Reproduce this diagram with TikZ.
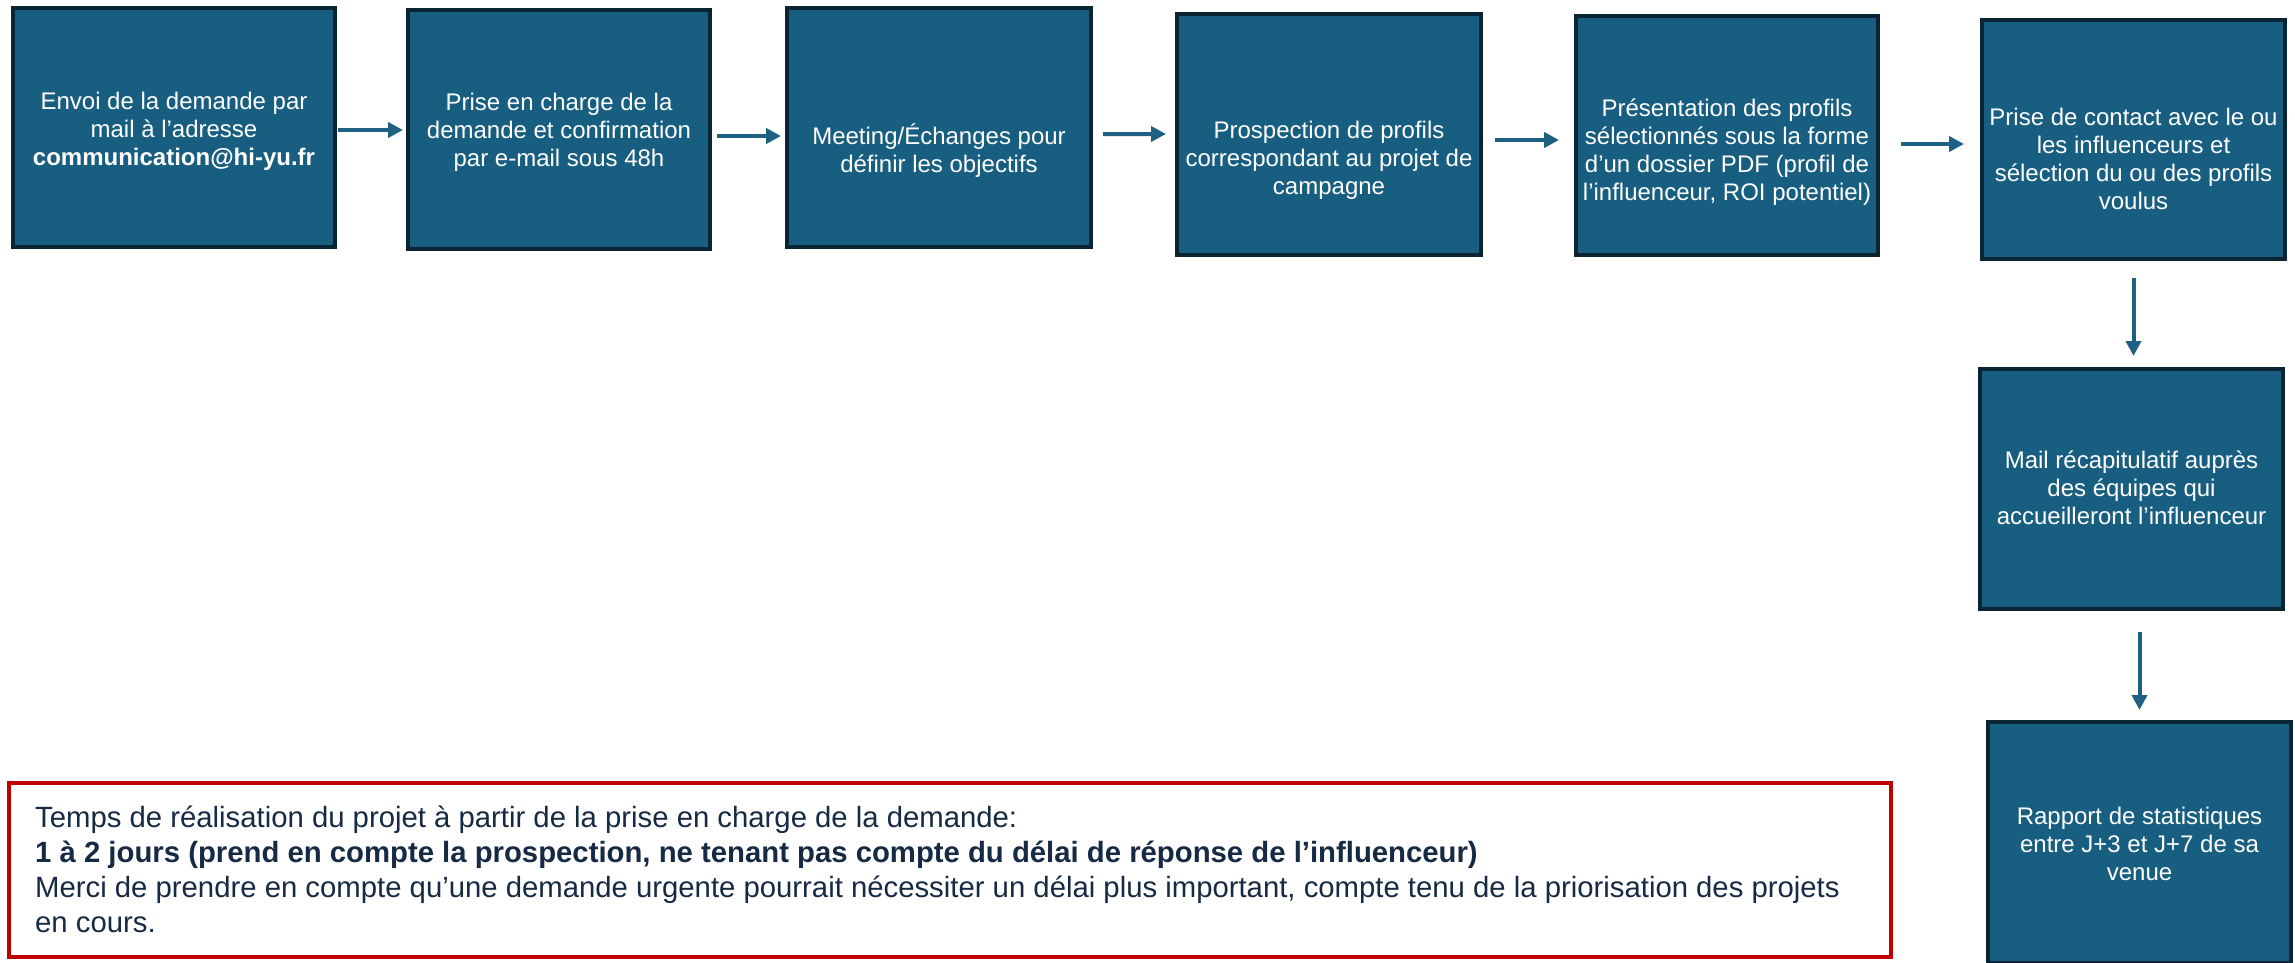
\documentclass[tikz,border=0pt]{standalone}
\usepackage{fontspec}
\setmainfont{Liberation Sans}
\usetikzlibrary{arrows.meta,calc}
\definecolor{boxfill}{RGB}{24,94,128}
\definecolor{boxedge}{RGB}{11,36,52}
\definecolor{arrowcol}{RGB}{30,97,130}
\definecolor{redc}{RGB}{192,0,0}
\definecolor{notetext}{RGB}{22,42,68}
\begin{document}
\begin{tikzpicture}[x=1bp,y=-1bp,
  stepbox/.style={draw=boxedge, fill=boxfill, line width=4bp, inner sep=0pt},
  boxtext/.style={text=white, align=center, inner sep=0pt, font=\fontsize{24bp}{28bp}\selectfont},
  arr/.style={draw=arrowcol, line width=4bp, -{Triangle[length=15bp,width=15bp]}}]
\useasboundingbox (0,0) rectangle (2295,962);
\fill[white] (0,0) rectangle (2295,962);
\clip (0,0) rectangle (2295,962);

% boxes
\node[stepbox, minimum width=322bp, minimum height=239bp] (b1) at (174,127.5) {};
\node[stepbox, minimum width=302bp, minimum height=239bp] (b2) at (559,129.5) {};
\node[stepbox, minimum width=304bp, minimum height=239bp] (b3) at (939,127.5) {};
\node[stepbox, minimum width=304bp, minimum height=241bp] (b4) at (1329,134.5) {};
\node[stepbox, minimum width=302bp, minimum height=239bp] (b5) at (1727,135.5) {};
\node[stepbox, minimum width=303bp, minimum height=239bp] (b6) at (2133.5,139.5) {};
\node[stepbox, minimum width=303bp, minimum height=240bp] (b7) at (2131.5,489) {};
\node[stepbox, minimum width=303bp, minimum height=241bp] (b8) at (2139.5,842.5) {};

% texts
\node[boxtext] (t1) at (174,131) {Envoi de la demande par\\mail à l’adresse\\\textbf{communication@hi-yu.fr}};
\node[boxtext] (t2) at (559,132) {Prise en charge de la\\demande et confirmation\\par e-mail sous 48h};
\node[boxtext] (t3) at (939,151) {Meeting/Échanges pour\\définir les objectifs};
\node[boxtext] (t4) at (1329,160) {Prospection de profils\\correspondant au projet de\\campagne};
\node[boxtext] (t5) at (1727,152) {Présentation des profils\\sélectionnés sous la forme\\d’un dossier PDF (profil de\\l’influenceur, ROI potentiel)};
\node[boxtext] (t6) at (2133.5,159) {Prise de contact avec le ou\\les influenceurs et\\sélection du ou des profils\\voulus};
\node[boxtext] (t7) at (2131.5,488) {Mail récapitulatif auprès\\des équipes qui\\accueilleront l’influenceur};
\node[boxtext] (t8) at (2139.5,844) {Rapport de statistiques\\entre J+3 et J+7 de sa\\venue};

% arrows
\draw[arr] ($(b1.east)+(1,2.5)$) -- ($(b2.west)+(-3,0.5)$);
\draw[arr] ($(b2.east)+(5,6.5)$) -- ($(b3.west)+(-4,8.5)$);
\draw[arr] ($(b3.east)+(10,6.5)$) -- ($(b4.west)+(-9,-0.5)$);
\draw[arr] ($(b4.east)+(12,5.5)$) -- ($(b5.west)+(-15,4.5)$);
\draw[arr] ($(b5.east)+(21,8.5)$) -- ($(b6.west)+(-16,4.5)$);
\draw[arr] ($(b6.south)+(0,17)$) -- ($(b6.south |- b7.north)+(0,-11)$);
\draw[arr] ($(b8.north |- b7.south)+(0,21)$) -- ($(b8.north)+(0,-10)$);

% note
\node[draw=redc, line width=4bp, inner sep=0pt, minimum width=1882bp, minimum height=174bp] (frame) at (950,870) {};
\node[anchor=base west, inner sep=0pt, text=notetext, font=\fontsize{29.3bp}{35bp}\selectfont] (note) at (35,827)
 {\parbox[t]{1850bp}{\raggedright Temps de réalisation du projet à partir de la prise en charge de la demande:\\
 \textbf{1 à 2 jours (prend en compte la prospection, ne tenant pas compte du délai de réponse de l’influenceur)}\\
 Merci de prendre en compte qu’une demande urgente pourrait nécessiter un délai plus important, compte tenu de la priorisation des projets\\
 en cours.}};
\end{tikzpicture}
\end{document}
